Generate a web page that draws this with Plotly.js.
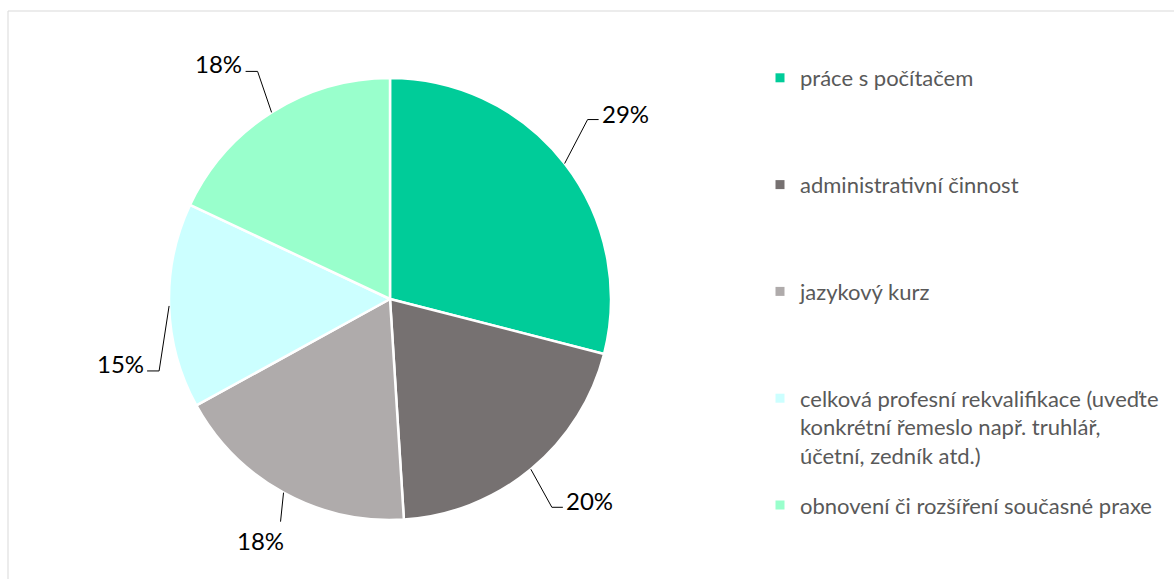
<!DOCTYPE html>
<html>
<head>
<meta charset="utf-8">
<script src="https://cdn.plot.ly/plotly-3.0.1.min.js"></script>
<style>
  html, body { margin: 0; padding: 0; background: #ffffff; }
  #chart { width: 1174px; height: 579px; }
</style>
</head>
<body>
<div id="chart"></div>
<script>
// ---- data ----
const categories = [
  'práce s počítačem',
  'administrativní činnost',
  'jazykový kurz',
  'celková profesní rekvalifikace (uveďte<br>konkrétní řemeslo např. truhlář,<br>účetní, zedník atd.)',
  'obnovení či rozšíření současné praxe'
];
const values = [29, 20, 18, 15, 18];
const colors = ['#00CC99', '#767171', '#AFABAB', '#CCFFFF', '#99FFCC'];

// ---- layout constants (pixels) ----
const W = 1174, H = 579;
const pieCx = 390, pieCy = 299, pieR = 221;
// leader line elbow offset (ex, ey) from slice edge, horizontal run h, text offset (tx, ty)
const labelLayout = [
  {ex: 23,  ey: -44, h: 11,  tx: 27,  ty: -6},
  {ex: 21,  ey: 38,  h: 11,  tx: 27,  ty: -7},
  {ex: -3,  ey: 29,  h: 0,   tx: -20, ty: 19},
  {ex: -10, ey: 65,  h: -12, tx: -27, ty: -7},
  {ex: -14, ey: -41, h: -12, tx: -27, ty: -8}
];

const px = x => x / W;
const py = y => 1 - y / H;

const total = values.reduce((a, b) => a + b, 0);

const pieTrace = {
  type: 'pie',
  labels: categories,
  values: values,
  sort: false,
  direction: 'clockwise',
  rotation: 0,
  textinfo: 'none',
  hoverinfo: 'label+percent',
  showlegend: false,
  marker: { colors: colors, line: { color: '#ffffff', width: 2.5 } },
  domain: { x: [px(pieCx - pieR), px(pieCx + pieR)], y: [py(pieCy + pieR), py(pieCy - pieR)] }
};

// legend entries (one per category), padded so every entry occupies the same height
const legendTraces = categories.map((c, i) => {
  const lines = c.split('<br>').length;
  let txt = c;
  if (i < categories.length - 1) {
    for (let k = lines; k < 3; k++) txt += '<br>\u00a0';
  }
  return {
    type: 'scatter', mode: 'markers', x: [null], y: [null],
    name: txt, legendgroup: 'g' + i, showlegend: true, hoverinfo: 'skip',
    marker: { symbol: 'square', size: 9, color: colors[i] }
  };
});

const shapes = [];
const annotations = [];
let cum = 0;
values.forEach((v, i) => {
  const mid = (cum + v / 2) / total;
  cum += v;
  const th = 2 * Math.PI * mid;
  const ax = pieCx + pieR * Math.sin(th);
  const ay = pieCy - pieR * Math.cos(th);
  const L = labelLayout[i];
  const exx = ax + L.ex, eyy = ay + L.ey;
  const hx = exx + L.h;
  shapes.push({
    type: 'path', xref: 'paper', yref: 'paper',
    path: 'M ' + px(ax) + ',' + py(ay) + ' L ' + px(exx) + ',' + py(eyy) + ' L ' + px(hx) + ',' + py(eyy),
    line: { color: '#000000', width: 1 }
  });
  annotations.push({
    xref: 'paper', yref: 'paper', x: px(hx + L.tx), y: py(eyy + L.ty),
    xanchor: 'center', yanchor: 'middle', showarrow: false,
    text: Math.round(v / total * 100) + '%',
    font: { family: 'Lato, sans-serif', size: 24, color: '#000000' }
  });
});

// outer chart border
shapes.push({
  type: 'rect', xref: 'paper', yref: 'paper',
  x0: px(8), x1: 1.02, y0: -0.02, y1: py(11),
  line: { color: '#D9D9D9', width: 1 }, fillcolor: 'rgba(0,0,0,0)', layer: 'below'
});

const layout = {
  width: W, height: H,
  margin: { l: 0, r: 0, t: 0, b: 0, autoexpand: false },
  paper_bgcolor: '#ffffff', plot_bgcolor: '#ffffff',
  xaxis: { visible: false }, yaxis: { visible: false },
  showlegend: true,
  legend: {
    x: px(760), y: py(57), xanchor: 'left', yanchor: 'top',
    valign: 'top', tracegroupgap: 18,
    font: { family: 'Lato, sans-serif', size: 22, color: '#595959' },
    bgcolor: 'rgba(0,0,0,0)'
  },
  shapes: shapes,
  annotations: annotations
};

Plotly.newPlot('chart', [pieTrace].concat(legendTraces), layout, { displayModeBar: false, staticPlot: true });
</script>
</body>
</html>
